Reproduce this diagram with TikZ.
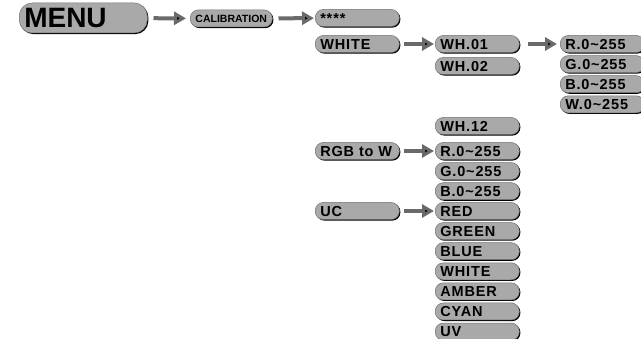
\documentclass[tikz,border=0pt]{standalone}
\usepackage{fontspec}
\setmainfont{Liberation Sans}
\newfontfamily\boxfont[LetterSpace=6]{Liberation Sans}
\usetikzlibrary{arrows.meta, positioning, shadows}

\definecolor{boxgray}{HTML}{A9A9A9}
\definecolor{arrowgray}{HTML}{6A6A6A}

\begin{document}
\begin{tikzpicture}[x=1pt,y=-1pt,node distance=2.6pt,
  item/.style={rounded corners=8pt,fill=boxgray,draw=black!55,line width=0.5pt,
    drop shadow={shadow xshift=1.1pt,shadow yshift=-1.1pt,fill=black,opacity=1},
    minimum height=17pt,text width=74pt,inner xsep=5pt,inner ysep=0pt,align=left,
    text height=13.6pt,text depth=3.4pt,
    font=\boxfont\bfseries\fontsize{14.5}{15}\selectfont},
  bigarrow/.style={draw=arrowgray,line width=4pt,-{Triangle[length=12pt,width=13pt]},
    shorten <=4pt,shorten >=1pt}]
  \useasboundingbox (0,0) rectangle (641,339);

  \node[item,text width=118pt,minimum height=30pt,rounded corners=13pt,
    text height=25pt,text depth=5pt,
    font=\bfseries\fontsize{28}{28}\selectfont,anchor=west] (menu) at (19,18) {MENU};
  \node[item,text width=78pt,inner xsep=2pt,align=center,anchor=west,
    text height=12.3pt,text depth=4.7pt,
    font=\bfseries\fontsize{10.5}{11}\selectfont] (calib) at (190,18.5) {CALIBRATION};

  % third column
  \node[item,anchor=west] (pass) at (315,18) {****};
  \node[item,anchor=west] (white) at (315,44) {WHITE};
  \node[item,anchor=west] (rgbw) at (315,151) {RGB to W};
  \node[item,anchor=west] (uc) at (315,211) {UC};

  % fourth column
  \node[item,anchor=west] (wh01) at (435,44) {WH.01};
  \node[item,anchor=west] (wh02) at (435,66) {WH.02};
  \node[item,anchor=west] (wh12) at (435,126) {WH.12};
  \node[item,anchor=west] (red) at (435,151) {R.0\char`~255};
  \node[item] (green) [below=of red] {G.0\char`~255};
  \node[item] (blue) [below=of green] {B.0\char`~255};
  \node[item,anchor=west] (ucred) at (435,211) {RED};
  \node[item] (ucgreen) [below=of ucred] {GREEN};
  \node[item] (ucblue) [below=of ucgreen] {BLUE};
  \node[item] (ucwhite) [below=of ucblue] {WHITE};
  \node[item] (ucamber) [below=of ucwhite] {AMBER};
  \node[item] (uccyan) [below=of ucamber] {CYAN};
  \node[item] (ucuv) [below=of uccyan] {UV};

  % fifth column
  \node[item,anchor=west] (whred) at (560,44) {R.0\char`~255};
  \node[item] (whgreen) [below=of whred] {G.0\char`~255};
  \node[item] (whblue) [below=of whgreen] {B.0\char`~255};
  \node[item] (whwhite) [below=of whblue] {W.0\char`~255};

  \path[bigarrow]
     (menu)  edge [shorten <=6pt,shorten >=4pt] (calib)
     (calib) edge [shorten <=6pt] (pass)
     (white) edge (wh01)
     (rgbw)  edge (red)
     (uc)    edge (ucred)
     (wh01)  edge [shorten <=8pt,shorten >=3pt] (whred);
\end{tikzpicture}
\end{document}
